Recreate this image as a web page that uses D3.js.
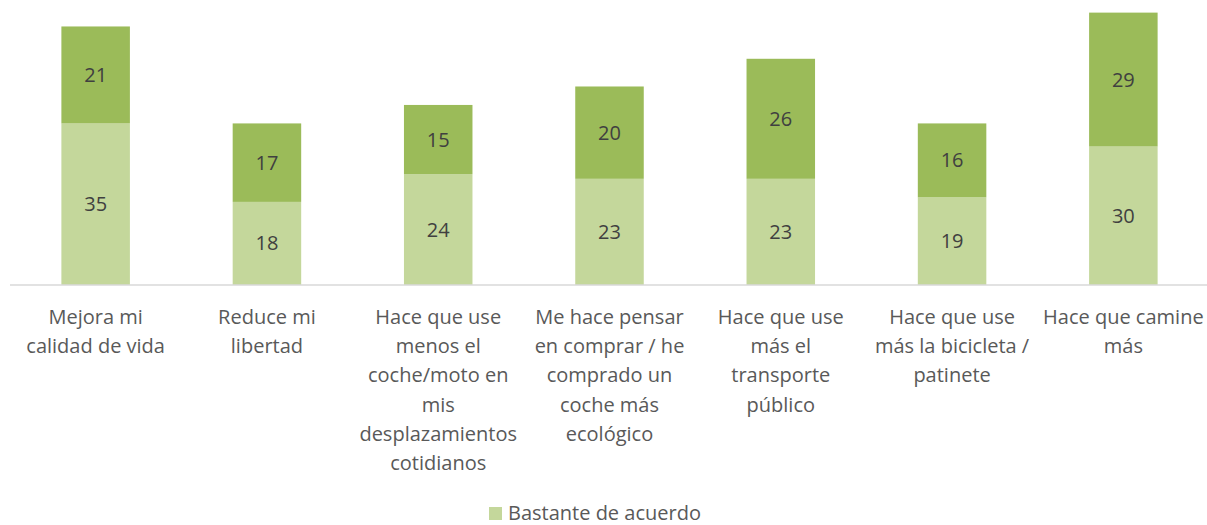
<!DOCTYPE html>
<html lang="es">
<head>
<meta charset="utf-8">
<script src="https://cdn.jsdelivr.net/npm/d3@7"></script>
<style>
  html, body { margin: 0; padding: 0; background: #ffffff; }
  svg { display: block; font-family: "Open Sans", "Noto Sans", sans-serif; }
</style>
</head>
<body>
<svg id="chart" width="1207" height="525"></svg>
<script>
// Category labels, one array entry per wrapped line
const categories = [
  ["Mejora mi", "calidad de vida"],
  ["Reduce mi", "libertad"],
  ["Hace que use", "menos el", "coche/moto en", "mis", "desplazamientos", "cotidianos"],
  ["Me hace pensar", "en comprar / he", "comprado un", "coche más", "ecológico"],
  ["Hace que use", "más el", "transporte", "público"],
  ["Hace que use", "más la bicicleta /", "patinete"],
  ["Hace que camine", "más"]
];

// Stacked series values (%)
const bastante = [35, 18, 24, 23, 23, 19, 30];   // lower segment
const totalmente = [21, 17, 15, 20, 26, 16, 29]; // upper segment

const legendLabels = ["Bastante de acuerdo"];

const colorLight = "#c4d79b";
const colorDark = "#9bbb59";

const svg = d3.select("#chart");

const x = d3.scaleBand()
  .domain(d3.range(categories.length))
  .range([10, 1209])
  .paddingInner(0.6)
  .paddingOuter(0.3);

const y = d3.scaleLinear()
  .domain([0, 60])
  .range([285, 8]);

const rows = categories.map((c, i) => ({ i, lower: bastante[i], upper: totalmente[i] }));

// lower segments
svg.append("g").selectAll("rect")
  .data(rows)
  .join("rect")
  .attr("x", d => x(d.i))
  .attr("width", x.bandwidth())
  .attr("y", d => y(d.lower))
  .attr("height", d => y(0) - y(d.lower))
  .attr("fill", colorLight);

// upper segments
svg.append("g").selectAll("rect")
  .data(rows)
  .join("rect")
  .attr("x", d => x(d.i))
  .attr("width", x.bandwidth())
  .attr("y", d => y(d.lower + d.upper))
  .attr("height", d => y(d.lower) - y(d.lower + d.upper))
  .attr("fill", colorDark);

// value labels
const labelG = svg.append("g")
  .attr("font-size", 20)
  .attr("fill", "#404040")
  .attr("text-anchor", "middle");

labelG.selectAll("text.lo")
  .data(rows)
  .join("text")
  .attr("class", "lo")
  .attr("x", d => x(d.i) + x.bandwidth() / 2)
  .attr("y", d => y(d.lower / 2))
  .attr("dy", "0.35em")
  .text(d => d.lower);

labelG.selectAll("text.up")
  .data(rows)
  .join("text")
  .attr("class", "up")
  .attr("x", d => x(d.i) + x.bandwidth() / 2)
  .attr("y", d => y(d.lower + d.upper / 2))
  .attr("dy", "0.35em")
  .text(d => d.upper);

// category axis
const axis = d3.axisBottom(x).tickSize(0).tickFormat("");
const axisG = svg.append("g")
  .attr("transform", `translate(0,${y(0)})`)
  .call(axis);
axisG.select(".domain").attr("stroke", "#d9d9d9").attr("stroke-width", 1.5)
  .attr("d", "M10,0H1207");

const tickG = svg.append("g")
  .attr("font-size", 20)
  .attr("fill", "#595959")
  .attr("text-anchor", "middle");

tickG.selectAll("text")
  .data(categories.map((lines, i) => ({ lines, i })))
  .join("text")
  .attr("x", d => x(d.i) + x.bandwidth() / 2)
  .attr("y", 324)
  .each(function(d) {
    d3.select(this).selectAll("tspan")
      .data(d.lines)
      .join("tspan")
      .attr("x", x(d.i) + x.bandwidth() / 2)
      .attr("dy", (l, k) => k === 0 ? 0 : 29.2)
      .text(l => l);
  });

// legend
const legend = svg.append("g").attr("transform", "translate(489,507)");
legend.selectAll("rect")
  .data(legendLabels)
  .join("rect")
  .attr("width", 13)
  .attr("height", 13)
  .attr("fill", colorLight);
legend.selectAll("text")
  .data(legendLabels)
  .join("text")
  .attr("x", 19)
  .attr("y", 12.5)
  .attr("font-size", 20)
  .attr("fill", "#595959")
  .text(d => d);
</script>
</body>
</html>
